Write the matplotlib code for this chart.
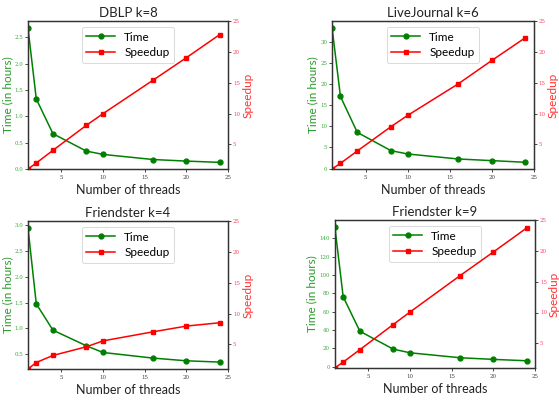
import numpy as np
import matplotlib.pyplot as plt

plt.rcParams['font.family'] = ['Lato', 'DejaVu Sans']

threads = [1, 2, 4, 8, 10, 16, 20, 24]

titles = ["DBLP k=8", "LiveJournal k=6", "Friendster k=4", "Friendster k=9"]

time_dblp = [2.68, 1.33, 0.67, 0.34, 0.277, 0.18, 0.15, 0.126]
time_lj = [33.3, 17.06, 8.57, 4.25, 3.46, 2.28, 1.89, 1.5]
time_f4 = [2.94, 1.474, 0.968, 0.667, 0.538, 0.43, 0.378, 0.353]
time_f9 = [152.6, 76.3, 38.7, 19.2, 15.2, 9.8, 8.0, 6.5]

speed_dblp = [1, 1.97, 4.03, 8.08, 9.97, 15.4, 19.05, 22.8]
speed_lj = [1, 1.92, 3.92, 7.86, 9.7, 14.8, 18.6, 22.3]
speed_f4 = [1, 2.05, 3.2, 4.6, 5.56, 7.03, 7.96, 8.5]
speed_f9 = [1, 1.96, 3.97, 8.05, 10.06, 15.96, 19.8, 23.7]

times = [time_dblp, time_lj, time_f4, time_f9]
speeds = [speed_dblp, speed_lj, speed_f4, speed_f9]

time_ticks = [
    [0.0, 0.5, 1.0, 1.5, 2.0, 2.5],
    [0, 5, 10, 15, 20, 25, 30],
    [0.5, 1.0, 1.5, 2.0, 2.5, 3.0],
    [0, 20, 40, 60, 80, 100, 120, 140],
]
time_fmt = ["{:.1f}", "{:d}", "{:.1f}", "{:d}"]
time_lims = [(0, 2.81), (-0.09, 34.9), (0.22, 3.07), (-1.4, 160)]

positions = [
    [0.050, 0.5775, 0.358, 0.370],
    [0.594, 0.5775, 0.361, 0.370],
    [0.050, 0.0775, 0.358, 0.370],
    [0.599, 0.0800, 0.358, 0.370],
]
# label anchors in axes coords (left label, right label)
label_x = [(-0.072, 1.075), (-0.066, 1.068), (-0.072, 1.075), (-0.088, 1.068)]

fig = plt.figure(figsize=(5.59, 4), dpi=100)

for i in range(4):
    ax = fig.add_axes(positions[i])
    ax2 = ax.twinx()
    l1, = ax.plot(threads, times[i], color="green", marker="o", markersize=3.5, lw=1.1)
    l2, = ax2.plot(threads, speeds[i], color="red", marker="s", markersize=3.5, lw=1.1)
    ax.set_xlim(1, 25)
    ax.set_xticks([5, 10, 15, 20, 25])
    ax.set_ylim(*time_lims[i])
    ax.set_yticks(time_ticks[i])
    ax.set_yticklabels([time_fmt[i].format(v) for v in time_ticks[i]])
    ax2.set_ylim(1, 25)
    ax2.set_yticks([5, 10, 15, 20, 25])
    ax.set_title(titles[i], fontsize=9.5, pad=3, color="#222222")
    ax.set_xlabel("Number of threads", fontsize=9, labelpad=3, color="#222222")
    ax.set_ylabel("Time (in hours)", fontsize=8.5, color="#2a9a2a")
    ax2.set_ylabel("Speedup", fontsize=8.5, color="#ff3333")
    ax.yaxis.set_label_coords(label_x[i][0], 0.5)
    ax2.yaxis.set_label_coords(label_x[i][1], 0.5)
    for lab in ax.get_xticklabels() + ax.get_yticklabels() + ax2.get_yticklabels():
        lab.set_fontfamily("DejaVu Serif")
        lab.set_fontsize(4.0)
    ax.tick_params(axis="x", length=2, width=0.5, pad=2, labelcolor="#444444")
    ax.tick_params(axis="y", length=2, width=0.5, pad=1.5, labelcolor="#3aaa3a")
    ax2.tick_params(axis="y", length=2, width=0.5, pad=1.5, labelcolor="#ff4466")
    for sp in list(ax.spines.values()) + list(ax2.spines.values()):
        sp.set_linewidth(0.9)
        sp.set_color("#333333")
    leg = ax.legend([l1, l2], ["Time", "Speedup"], loc="upper center", fontsize=8.5,
                    handlelength=2.4, borderpad=0.4, labelspacing=0.4, framealpha=1)
    leg.get_frame().set_linewidth(0.5)

fig.savefig("out.png", dpi=100)
